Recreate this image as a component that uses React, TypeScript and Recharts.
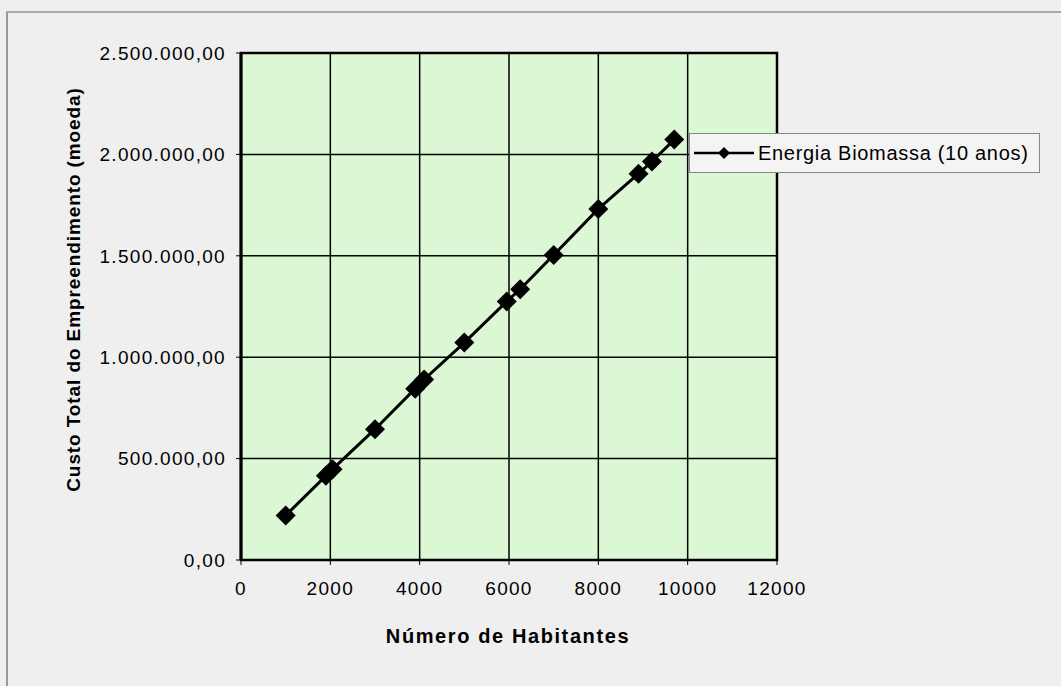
import React from 'react';
import {
  LineChart, Line, XAxis, YAxis, CartesianGrid, ReferenceArea, Legend,
} from 'recharts';

// Número de habitantes x custo total
const habitantes = [1000, 1900, 2050, 3000, 3900, 4100, 5000, 5950, 6250, 7000, 8000, 8900, 9200, 9700];
const custo = [220000, 415000, 448000, 645000, 845000, 890000, 1072000, 1275000, 1335000, 1504000, 1731000, 1905000, 1965000, 2073000];
const xTicks = [0, 2000, 4000, 6000, 8000, 10000, 12000];
const yTicks = [0, 500000, 1000000, 1500000, 2000000, 2500000];
const serieNome = 'Energia Biomassa (10 anos)';

const data = habitantes.map((h, i) => ({ h, custo: custo[i] }));

const fmtMoeda = (v: number) => {
  const inteiro = Math.round(v).toString().replace(/\B(?=(\d{3})+(?!\d))/g, '.');
  return `${inteiro},00`;
};

const FONT = '"Liberation Sans", Arial, sans-serif';
const tickStyle = { fill: '#000', fontSize: 19, fontFamily: FONT, letterSpacing: 1.3 };

function Diamond(props: any) {
  const { cx, cy } = props;
  if (cx == null || cy == null) return null;
  const r = 10;
  return <polygon points={`${cx},${cy - r} ${cx + r},${cy} ${cx},${cy + r} ${cx - r},${cy}`} fill="#000" />;
}

function LegendBox() {
  return (
    <div style={{
      width: 349, height: 38, border: '1px solid #888', background: '#f4f4f4', boxSizing: 'content-box',
      display: 'flex', alignItems: 'center', fontFamily: FONT, fontSize: 20, letterSpacing: 0.7, color: '#000',
    }}>
      <svg width={64} height={20} style={{ marginLeft: 2 }}>
        <line x1={2} y1={10} x2={62} y2={10} stroke="#000" strokeWidth={2.5} />
        <polygon points="32,4 38,10 32,16 26,10" fill="#000" />
      </svg>
      <span style={{ marginLeft: 2, whiteSpace: 'nowrap' }}>{serieNome}</span>
    </div>
  );
}

function YTitle(props: any) {
  const { viewBox } = props;
  const x = 73;
  const y = viewBox.y + viewBox.height / 2 - 17;
  return (
    <text x={x} y={y} transform={`rotate(-90, ${x}, ${y})`} textAnchor="middle" dominantBaseline="central"
      fontFamily={FONT} fontWeight="bold" fontSize={19} letterSpacing={0.9} fill="#000">
      Custo Total do Empreendimento (moeda)
    </text>
  );
}

function XTitle(props: any) {
  const { viewBox } = props;
  const x = viewBox.x + viewBox.width / 2 - 1;
  return (
    <text x={x} y={636} textAnchor="middle" dominantBaseline="central"
      fontFamily={FONT} fontWeight="bold" fontSize={20} letterSpacing={1.6} fill="#000">
      Número de Habitantes
    </text>
  );
}

export default function App() {
  return (
    <div style={{ position: 'fixed', left: 0, top: 0, width: 1061, height: 686, background: '#efefef' }}>
      <div style={{ position: 'absolute', left: 6, top: 11, width: 1061, height: 686, borderLeft: '2px solid #999', borderTop: '2px solid #aaa' }} />
      <div style={{ position: 'absolute', left: 0, top: 0 }}>
        <LineChart width={1061} height={686} data={data}
          margin={{ top: 53, right: 284, bottom: 66, left: 91 }}>
          <CartesianGrid stroke="#000" strokeWidth={1.5} fill="#dcf7d4" fillOpacity={1}
            horizontalValues={yTicks} verticalValues={xTicks} />
          <XAxis dataKey="h" type="number" domain={[0, 12000]} ticks={xTicks}
            tick={tickStyle}
            tickSize={5} tickMargin={17} axisLine={{ stroke: '#000', strokeWidth: 2 }} tickLine={{ stroke: '#000' }}
            height={60} label={<XTitle />} />
          <YAxis type="number" domain={[0, 2500000]} ticks={yTicks} tickFormatter={fmtMoeda}
            tick={tickStyle}
            tickSize={5} tickMargin={10} axisLine={{ stroke: '#000', strokeWidth: 3 }} tickLine={{ stroke: '#000' }}
            width={150} label={<YTitle />} />
          <ReferenceArea x1={0} x2={12000} y1={0} y2={2500000} fill="none" stroke="#000" strokeWidth={2.5} ifOverflow="visible" />
          <Legend layout="vertical" align="center" verticalAlign="middle" content={<LegendBox />}
            wrapperStyle={{ position: 'absolute', left: 689, top: 133, width: 352, height: 40 }} />
          <Line dataKey="custo" name={serieNome} stroke="#000" strokeWidth={3} dot={<Diamond />}
            isAnimationActive={false} />
        </LineChart>
      </div>
    </div>
  );
}
